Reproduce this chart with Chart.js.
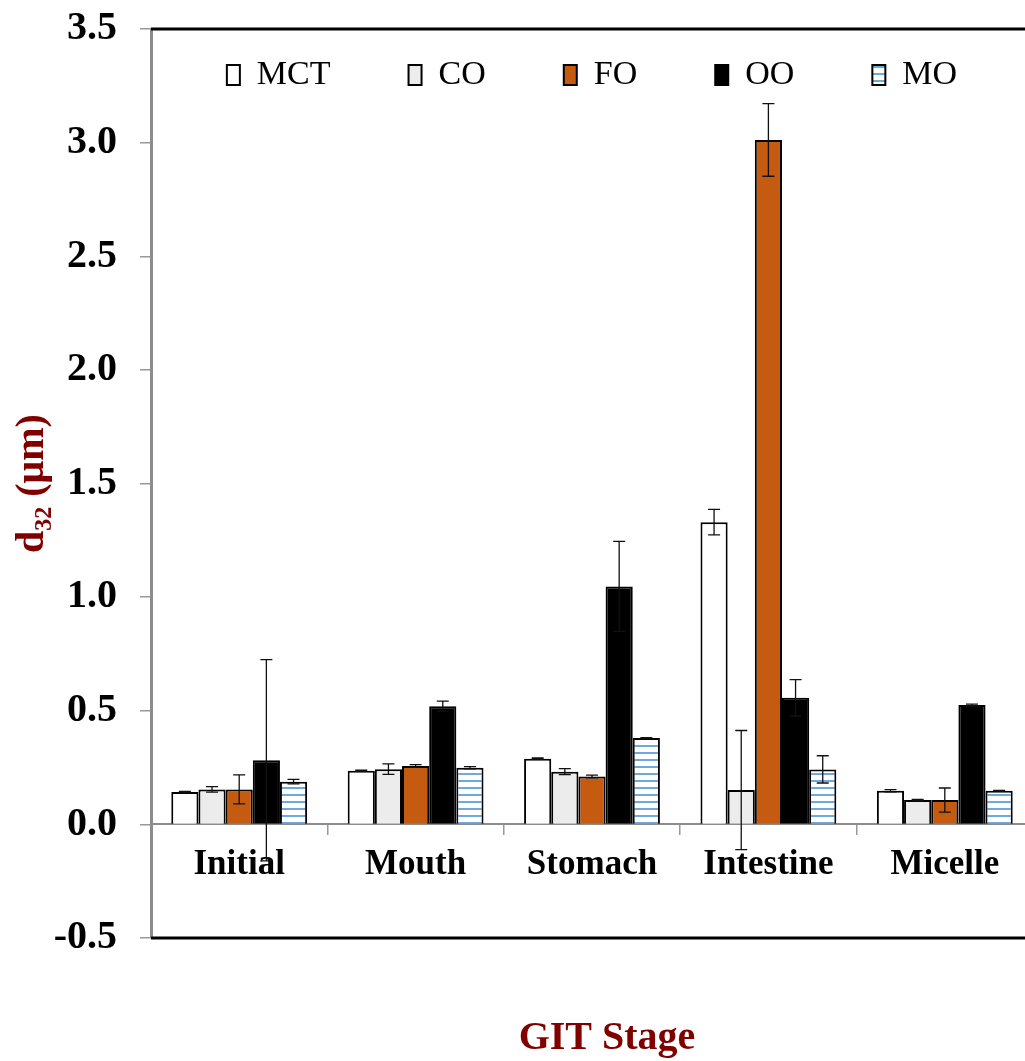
<!DOCTYPE html>
<html>
<head>
<meta charset="utf-8">
<script src="https://cdn.jsdelivr.net/npm/chart.js@4/dist/chart.umd.min.js"></script>
<style>
  html, body { margin: 0; padding: 0; background: #fff; overflow: hidden; }
  canvas { display: block; }
</style>
</head>
<body>
<canvas id="chart" width="1040" height="1061"></canvas>
<script>
// GIT stages and droplet size d32 (µm) per oil, with error values
const stages = ['Initial', 'Mouth', 'Stomach', 'Intestine', 'Micelle'];

const mct    = [0.142, 0.236, 0.289, 1.330, 0.148];
const mctErr = [0.003, 0.003, 0.003, 0.056, 0.005];
const co     = [0.154, 0.243, 0.232, 0.151, 0.107];
const coErr  = [0.012, 0.023, 0.013, 0.262, 0.003];
const fo     = [0.154, 0.257, 0.211, 3.012, 0.107];
const foErr  = [0.064, 0.006, 0.006, 0.160, 0.053];
const oo     = [0.282, 0.520, 1.047, 0.557, 0.525];
const ooErr  = [0.443, 0.022, 0.198, 0.080, 0.004];
const mo     = [0.188, 0.249, 0.380, 0.242, 0.148];
const moErr  = [0.010, 0.005, 0.002, 0.060, 0.002];

const yTicks = [-0.5, 0, 0.5, 1, 1.5, 2, 2.5, 3, 3.5];

const serif = '"Liberation Serif", "Times New Roman", serif';
const darkRed = '#800000';

// striped fill for MO
function stripes() {
    const c = document.createElement('canvas');
    c.width = 8; c.height = 7;
    const g = c.getContext('2d');
    g.fillStyle = '#fff';
    g.fillRect(0, 0, 8, 7);
    g.fillStyle = '#6fa8dc';
    g.fillRect(0, 3, 8, 2);
    return g.createPattern(c, 'repeat');
}
const ctx = document.getElementById('chart').getContext('2d');

const errors = [mctErr, coErr, foErr, ooErr, moErr];

// error bars drawn over the bars
const errorBars = {
    id: 'errorBars',
    afterDatasetsDraw(chart) {
        const c = chart.ctx;
        const y = chart.scales.y;
        c.save();
        c.strokeStyle = '#111';
        c.lineWidth = 1.3;
        chart.data.datasets.forEach((ds, i) => {
            const meta = chart.getDatasetMeta(i);
            meta.data.forEach((bar, j) => {
                const v = ds.data[j], e = errors[i][j];
                const top = y.getPixelForValue(v + e);
                const bot = y.getPixelForValue(v - e);
                c.beginPath();
                c.moveTo(bar.x, top); c.lineTo(bar.x, bot);
                c.moveTo(bar.x - 6, top); c.lineTo(bar.x + 6, top);
                c.moveTo(bar.x - 6, bot); c.lineTo(bar.x + 6, bot);
                c.stroke();
            });
        });
        c.restore();
    }
};

// black frame on top, right and bottom of the plot
const frame = {
    id: 'frame',
    afterDraw(chart) {
        const a = chart.chartArea;
        const c = chart.ctx;
        c.save();
        c.strokeStyle = '#000';
        c.lineWidth = 3;
        c.beginPath();
        c.moveTo(a.left, a.top); c.lineTo(a.right, a.top); c.lineTo(a.right, a.bottom); c.lineTo(a.left, a.bottom);
        c.stroke();
        c.restore();
    }
};

// legend inside the plot (takes no space), x title nudged right
const legendInside = {
    id: 'legendInside',
    beforeInit(chart) {
        const fit = chart.legend.fit;
        chart.legend.fit = function () { fit.call(this); this.height = 0; };
    },
    afterLayout(chart) {
        const lg = chart.legend;
        // widened on both sides so the row stays centred on the plot and does not wrap
        lg.left = chart.chartArea.left - 150;
        lg.right = chart.chartArea.right + 150;
        lg.top = 75 - 78 - 17;
        lg.bottom = lg.top + 200;
        chart.titleBlock.left += 30;
    }
};

new Chart(ctx, {
    type: 'bar',
    data: {
        labels: stages,
        datasets: [
            { label: 'MCT', data: mct, backgroundColor: '#ffffff' },
            { label: 'CO', data: co, backgroundColor: '#ececec' },
            { label: 'FO', data: fo, backgroundColor: '#c55a11' },
            { label: 'OO', data: oo, backgroundColor: '#000000' },
            { label: 'MO', data: mo, backgroundColor: stripes() },
        ],
    },
    options: {
        responsive: false,
        animation: false,
        layout: { padding: { top: 29, right: 7, bottom: 0, left: 0 } },
        datasets: {
            bar: {
                borderColor: '#000',
                borderWidth: 2,
                categoryPercentage: 0.77,
                barPercentage: 1,
            },
        },
        scales: {
            x: {
                position: { y: 0 },
                grid: { drawOnChartArea: false, drawTicks: true, tickLength: 10, color: '#999', lineWidth: 1.5 },
                border: { color: '#8c8c8c', width: 2 },
                ticks: { color: '#000', padding: 10, font: { family: serif, size: 35, weight: 'bold' } },
            },
            y: {
                min: -0.5,
                max: 3.5,
                afterBuildTicks(scale) { scale.ticks = yTicks.map(v => ({ value: v })); },
                afterFit(scale) {
                    scale.width = 151;
                    scale.paddingTop = 0;
                    scale.paddingBottom = 0;
                },
                grid: { drawOnChartArea: false, drawTicks: true, tickLength: 11, color: '#999', lineWidth: 1.5 },
                border: { color: '#8c8c8c', width: 3 },
                ticks: {
                    color: '#000',
                    padding: 23,
                    font: { family: serif, size: 40, weight: 'bold' },
                    callback: v => v.toFixed(1),
                },
                title: {
                    display: true,
                    text: 'd₃₂ (μm)',
                    color: darkRed,
                    padding: { top: 13, bottom: 0 },
                    font: { family: serif, size: 40, weight: 'bold', lineHeight: 1 },
                },
            },
        },
        plugins: {
            legend: {
                position: 'top',
                labels: {
                    color: '#000',
                    boxWidth: 13,
                    boxHeight: 20,
                    padding: 78,
                    font: { family: serif, size: 34 },
                },
            },
            title: {
                display: true,
                text: 'GIT Stage',
                position: 'bottom',
                fullSize: false,
                color: darkRed,
                padding: { top: 77, bottom: -2 },
                font: { family: serif, size: 40, weight: 'bold' },
            },
            tooltip: { enabled: false },
        },
    },
    plugins: [legendInside, errorBars, frame],
});
</script>
</body>
</html>
